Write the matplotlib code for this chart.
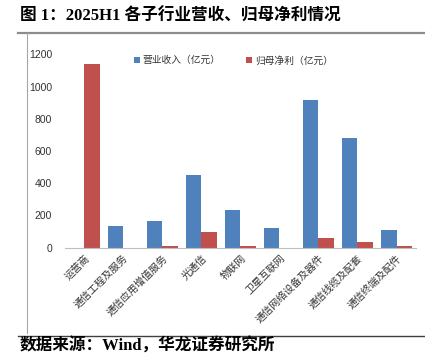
import matplotlib.pyplot as plt
import matplotlib.lines as mlines
import numpy as np

plt.rcParams['font.family'] = ['Noto Sans CJK SC', 'DejaVu Sans']

# data (亿元)
categories = ['运营商', '通信工程及服务', '通信应用增值服务', '光通信', '物联网',
              '卫星互联网', '通信网络设备及器件', '通信线缆及配套', '通信终端及配件']
revenue = [0, 136, 164, 449, 234, 124, 916, 681, 112]
net_profit = [1140, 0, 10, 96, 12, 0, 58, 37, 9]
yticks = [0, 200, 400, 600, 800, 1000, 1200]

blue = '#4F81BD'
red = '#C0504D'

fig = plt.figure(figsize=(4.25, 3.62), dpi=100)
ax = fig.add_axes([0.152, 0.316, 0.827, 0.534])

x = np.arange(len(categories))
w = 0.4
ax.bar(x - w / 2, revenue, w, color=blue, label='营业收入（亿元）')
ax.bar(x + w / 2, net_profit, w, color=red, label='归母净利（亿元）')

ax.set_xlim(-0.5, len(categories) - 0.5)
ax.set_ylim(0, 1200)
ax.set_yticks(yticks)
ax.set_yticklabels([str(v) for v in yticks], fontsize=7.5, color='#333333',
                   family=['Liberation Sans', 'DejaVu Sans'])
ax.set_xticks(x)
ax.set_xticklabels(categories, rotation=45, ha='right', va='top',
                   rotation_mode='anchor', fontsize=7.3, color='#333333')
ax.tick_params(axis='both', length=0)
ax.tick_params(axis='y', pad=9)
ax.tick_params(axis='x', pad=4)
for s in ['top', 'right', 'left']:
    ax.spines[s].set_visible(False)
ax.spines['bottom'].set_color('#bfbfbf')

ax.legend(loc='upper center', bbox_to_anchor=(0.48, 1.04), ncol=2, frameon=False,
          fontsize=7, handlelength=0.6, handleheight=0.6, columnspacing=2.6,
          handletextpad=0.3, labelcolor='#333333')

# title, source and frame lines
mixed = ['Liberation Serif', 'Noto Sans CJK SC']
fig.text(0.047, 0.955, '图 1：2025H1 各子行业营收、归母净利情况', fontsize=12,
         fontweight='bold', va='center', ha='left', family=mixed)
fig.text(0.047, 0.02, '数据来源：Wind，华龙证券研究所', fontsize=12,
         fontweight='bold', va='bottom', ha='left', family=mixed)
fig.add_artist(mlines.Line2D([0.042, 1.0], [0.909, 0.909], color='#8c8c8c', lw=1.6))
fig.add_artist(mlines.Line2D([0.064, 0.064], [0.909, 0.08], color='#a6a6a6', lw=0.8))
fig.add_artist(mlines.Line2D([0.042, 1.0], [0.073, 0.073], color='#404040', lw=1.0))

fig.savefig('out.png', dpi=100)
